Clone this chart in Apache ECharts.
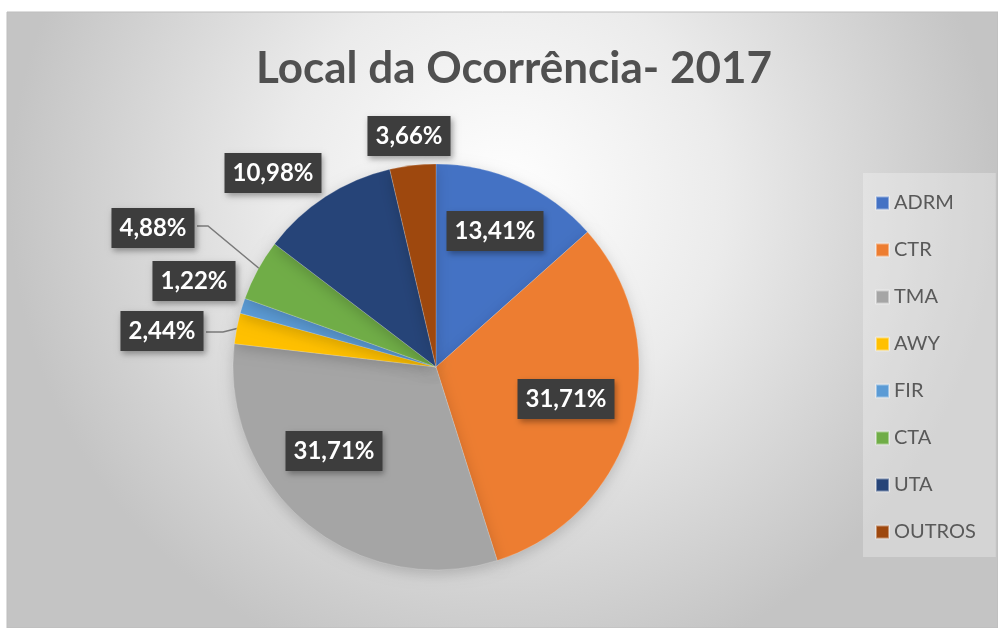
<!DOCTYPE html>
<html>
<head>
<meta charset="utf-8">
<script src="https://cdn.jsdelivr.net/npm/echarts@6/dist/echarts.min.js"></script>
<style>
  html, body { margin: 0; padding: 0; background: #ffffff; }
  #chart { width: 998px; height: 628px; }
</style>
</head>
<body>
<div id="chart"></div>
<script>
// data (counts, total 82)
const categories = ['ADRM', 'CTR', 'TMA', 'AWY', 'FIR', 'CTA', 'UTA', 'OUTROS']
const counts = [11, 26, 26, 2, 1, 4, 9, 3]
const colors = ['#4472C4', '#ED7D31', '#A5A5A5', '#FFC000', '#5B9BD5', '#70AD47', '#264478', '#9E480E']

// where each label box sits (Excel placed these by hand)
const labelSpots = {
  ADRM: [495, 231],
  CTR: [566, 399],
  TMA: [334, 451],
  AWY: [162, 331],
  FIR: [194, 281],
  CTA: [153, 228],
  UTA: [273, 173],
  OUTROS: [409, 136]
}
const leaderLines = {
  AWY: [[206, 332], [223, 332], [239, 328]],
  CTA: [[197, 226], [208, 226], [261, 270]]
}

const total = counts.reduce((a, b) => a + b, 0)
const fmt = v => (v / total * 100).toFixed(2).replace('.', ',') + '%'

const chart = echarts.init(document.getElementById('chart'))

const option = {
  backgroundColor: '#ffffff',
  color: colors,
  graphic: [
    {
      type: 'rect',
      z: -10,
      silent: true,
      shape: { x: 7, y: 12, width: 991, height: 616 },
      style: {
        fill: new echarts.graphic.RadialGradient(0.5, 0.3, 0.8, [
          { offset: 0, color: '#ffffff' },
          { offset: 0.45, color: '#ebebeb' },
          { offset: 1, color: '#c4c4c4' }
        ]),
        stroke: '#bdbdbd',
        lineWidth: 1
      }
    }
  ],
  title: {
    text: 'Local da Ocorrência- 2017',
    left: 509,
    top: 42,
    textAlign: 'center',
    textStyle: {
      fontFamily: 'Lato',
      fontWeight: 'bold',
      fontSize: 44,
      color: '#505050'
    }
  },
  legend: {
    orient: 'vertical',
    left: 863,
    top: 173,
    padding: [20, 20, 15, 12],
    backgroundColor: 'rgba(255,255,255,0.28)',
    itemWidth: 13,
    itemHeight: 13,
    itemGap: 27,
    icon: 'rect',
    data: categories,
    textStyle: {
      fontFamily: 'Lato',
      fontSize: 20,
      color: '#595959'
    }
  },
  series: [
    {
      type: 'pie',
      center: [436, 367],
      radius: 203,
      startAngle: 90,
      clockwise: true,
      avoidLabelOverlap: false,
      itemStyle: {
        borderColor: 'rgba(255,255,255,0.4)',
        borderWidth: 0.5,
        shadowBlur: 14,
        shadowColor: 'rgba(0,0,0,0.18)',
        shadowOffsetY: 4
      },
      label: {
        show: true,
        position: 'outside',
        formatter: p => fmt(p.value),
        fontFamily: 'Lato',
        fontWeight: 'bold',
        fontSize: 24,
        color: '#ffffff',
        backgroundColor: '#3d3d3d',
        padding: [9, 8, 7, 8],
        shadowColor: 'rgba(0,0,0,0.35)',
        shadowBlur: 6,
        shadowOffsetX: 2,
        shadowOffsetY: 3
      },
      labelLine: {
        show: false,
        lineStyle: { color: '#7a7a7a', width: 1.5 }
      },
      labelLayout: function (params) {
        const name = categories[params.dataIndex]
        const spot = labelSpots[name]
        const out = { x: spot[0], y: spot[1], align: 'center', verticalAlign: 'middle' }
        if (leaderLines[name]) out.labelLinePoints = leaderLines[name]
        return out
      },
      emphasis: { disabled: true },
      data: categories.map((c, i) => ({
        name: c,
        value: counts[i],
        labelLine: { show: !!leaderLines[c] }
      }))
    }
  ]
}

chart.setOption(option)
window.addEventListener('resize', () => chart.resize())
</script>
</body>
</html>
